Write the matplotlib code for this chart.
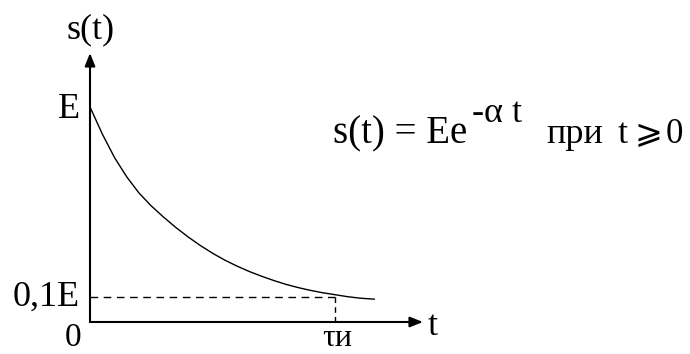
import matplotlib
matplotlib.use("Agg")
import matplotlib.pyplot as plt

# ---- data (t in units of tau_i, s in units of E) ----
t_vals = [0.0, 0.05, 0.10, 0.15, 0.20, 0.25, 0.30, 0.35, 0.40, 0.45, 0.50,
          0.55, 0.60, 0.65, 0.70, 0.75, 0.80, 0.85, 0.90, 0.95, 1.00, 1.05,
          1.10, 1.163]
s_vals = [1.0, 0.875, 0.765, 0.675, 0.600, 0.540, 0.488, 0.440, 0.396, 0.356,
          0.320, 0.288, 0.260, 0.235, 0.213, 0.193, 0.175, 0.160, 0.147, 0.136,
          0.127, 0.118, 0.111, 0.106]
E_level = 1.0
low_level = 0.115      # "0,1E" dashed level
tau_i = 1.0
x_axis_end = 1.359
y_axis_end = 1.251

W, H, DPI = 690, 354, 100
fig = plt.figure(figsize=(W / DPI, H / DPI), dpi=DPI)
fig.patch.set_facecolor("white")

# axes placed so origin sits at pixel (90, 322)
ox, oy, ux, uy = 90, 322, 245, 215
xmax, ymax = 1.4, 1.3
ax = fig.add_axes([ox / W, (H - oy) / H, xmax * ux / W, ymax * uy / H])
ax.set_xlim(0, xmax)
ax.set_ylim(0, ymax)
ax.axis("off")

FONT = "Liberation Serif"
col = "black"

# axes with arrows
arrow = dict(arrowstyle="-|>,head_length=0.7,head_width=0.28", lw=1.5,
             color=col, shrinkA=0, shrinkB=0, mutation_scale=11)
ax.annotate("", xy=(x_axis_end, 0), xytext=(0, 0), arrowprops=arrow,
            annotation_clip=False)
ax.annotate("", xy=(0, y_axis_end), xytext=(0, 0), arrowprops=arrow,
            annotation_clip=False)

# curve
ax.plot(t_vals, s_vals, color=col, lw=1.0, clip_on=False,
        solid_capstyle="butt", solid_joinstyle="round")

# dashed guides
ax.plot([0, tau_i], [low_level, low_level], color=col, lw=1.0,
        linestyle=(0, (5.5, 4)), clip_on=False)
ax.plot([tau_i, tau_i], [low_level, 0], color=col, lw=1.0,
        linestyle=(0, (4, 3)), clip_on=False)

lab = dict(fontfamily=FONT, color=col, va="baseline",
           textcoords="offset pixels", annotation_clip=False)
ax.annotate("s(t)", xy=(0, y_axis_end), xytext=(1, 15), ha="center",
            fontsize=26, **lab)
ax.annotate("E", xy=(0, E_level), xytext=(-10, -11), ha="right",
            fontsize=26, **lab)
ax.annotate("0,1E", xy=(0, low_level), xytext=(-10, -8), ha="right",
            fontsize=26, **lab)
ax.annotate("0", xy=(0, 0), xytext=(-17, -24), ha="center",
            fontsize=24, **lab)
ax.annotate("τи", xy=(tau_i, 0), xytext=(-13, -24), ha="left",
            fontsize=23, **lab)
ax.annotate("t", xy=(x_axis_end, 0), xytext=(5, -13), ha="left",
            fontsize=26, **lab)

# formula (figure pixel coords, origin bottom-left)
fm = dict(color=col, va="baseline", ha="left")
base = H - 143
fig.text(333 / W, base / H, "s(t) = Ee", fontsize=28, fontfamily=FONT, **fm)
fig.text(472 / W, (H - 122) / H, "-α t", fontsize=26, fontfamily=FONT, **fm)
fig.text(546 / W, base / H, "при", fontsize=26, fontfamily=FONT, **fm)
fig.text(618 / W, base / H, "t", fontsize=26, fontfamily=FONT, **fm)
fig.text(634 / W, base / H, "⩾", fontsize=24,
         fontfamily=["DejaVu Sans", FONT], **fm)
fig.text(666 / W, base / H, "0", fontsize=25, fontfamily=FONT, **fm)

fig.savefig("out.png", dpi=DPI, facecolor="white")
